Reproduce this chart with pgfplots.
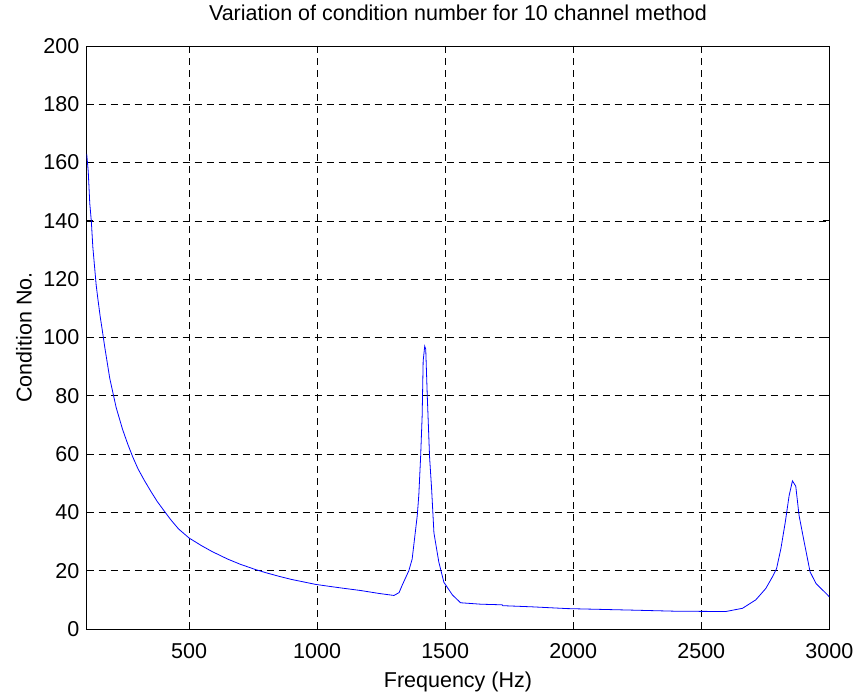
\documentclass[border=0pt]{standalone}
\usepackage{fontspec}
\setmainfont{Liberation Sans}
\usepackage{pgfplots}
\pgfplotsset{compat=1.18}
\begin{document}
\begin{tikzpicture}
\fontsize{21.5}{25}\selectfont
\useasboundingbox (-86.7pt,-69pt) rectangle (773.3pt,629pt);
\begin{axis}[
  at={(0pt,0pt)}, anchor=south west,
  scale only axis,
  width=742.6pt, height=583pt,
  xmin=100, xmax=3000, ymin=0, ymax=200,
  xtick={500,1000,...,3000},
  ytick={0,20,...,200},
  tick align=inside,
  major tick length=6pt,
  grid=major,
  major grid style={black, dash pattern=on 7pt off 5pt, line width=0.6pt},
  axis line style={black, line width=0.9pt},
  tick style={black, line width=0.8pt},
  /pgf/number format/assume math mode=true,
  /pgf/number format/set thousands separator={},
  ticklabel style={font=\fontsize{21.5}{25}\selectfont},
  xticklabel style={yshift=-7pt},
  title={Variation of condition number for 10 channel method},
  title style={font=\fontsize{21.5}{25}\selectfont, at={(axis description cs:0.5,1.0326)}, anchor=base},
  xlabel={Frequency (Hz)},
  xlabel style={font=\fontsize{21.5}{25}\selectfont, at={(axis description cs:0.5,-0.0995)}, anchor=base},
  ylabel={Condition No.},
  ylabel style={font=\fontsize{21.5}{25}\selectfont, at={(axis description cs:-0.0844,0.5)}, anchor=center},
]
\addplot[blue, line width=0.8pt] coordinates {
(100,163) (106,157) (112,146) (118,140) (124,131) (131,124) (137,118)
(144,113) (153,107) (160,103) (170,97) (190,86) (215,76) (240,68.5)
(260,63.5) (280,59) (300,55) (325,51) (350,47.3) (375,43.8) (400,40.8)
(430,37.3) (459,34.3) (500,31.2) (550,28.5) (589,26.6) (650,24) (700,22.2)
(759,20.4) (800,19.3) (850,18.1) (900,17) (994,15.3) (1050,14.6)
(1100,14) (1170,13.2) (1241,12.2) (1300,11.5)
(1320,12.5) (1332,15) (1358,20) (1371,24) (1391,39) (1397,46)
(1404,59) (1410,73) (1414,92) (1420,97) (1424,96) (1430,80)
(1439,59) (1447,48) (1456,33) (1475,23) (1495,16) (1528,11.7)
(1560,9.0) (1640,8.5) (1722,8.3) (1725,8.0) (1840,7.6) (1976,7.0)
(2218,6.5) (2400,6.1) (2596,6.0) (2661,7.1) (2713,10) (2752,13.9)
(2778,17.9) (2794,20.7) (2811,27.6) (2828,36.6) (2843,45.7)
(2856,50.8) (2869,49) (2882,38.9) (2902,29.8) (2925,19.6)
(2948,15.6) (2993,11.7) (3000,11)
};
\end{axis}
\end{tikzpicture}
\end{document}
